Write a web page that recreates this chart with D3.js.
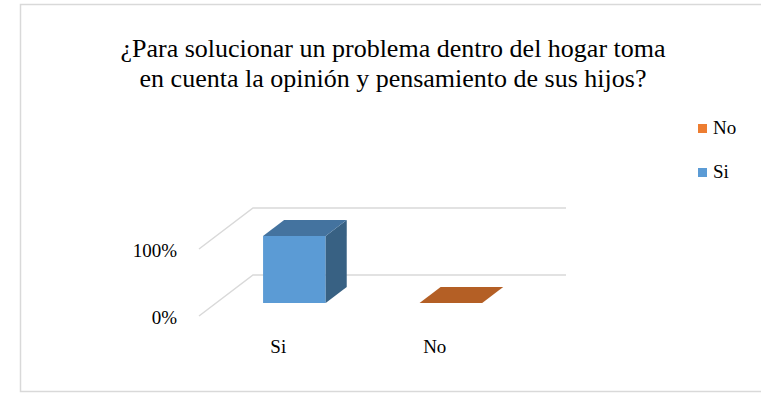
<!DOCTYPE html>
<html>
<head>
<meta charset="utf-8">
<script src="https://cdn.jsdelivr.net/npm/d3@7"></script>
<style>
  html, body { margin: 0; padding: 0; background: #fff; }
  svg { display: block; }
</style>
</head>
<body>
<svg id="chart" width="761" height="393"></svg>
<script>
// Survey answers (share of respondents)
const categories = ["Si", "No"];
const values = [1.0, 0.0];
const yTicks = [0, 1];
const yTickLabels = ["0%", "100%"];
const titleLines = [
  "¿Para solucionar un problema dentro del hogar toma",
  "en cuenta la opinión y pensamiento de sus hijos?"
];
const legendItems = ["No", "Si"];

const FONT = "Liberation Serif";
const colors = {
  Si: { front: "#5B9BD5", top: "#44739F", side: "#386183" },
  No: { front: "#ED7D31", top: "#B45F25", side: "#A0541F" }
};

const svg = d3.select("#chart");

// chart frame
svg.append("rect")
  .attr("x", 20.5).attr("y", 4.5)
  .attr("width", 746).attr("height", 387)
  .attr("fill", "#fff").attr("stroke", "#D9D9D9").attr("stroke-width", 1.5);

// title
svg.append("g").selectAll("text").data(titleLines).join("text")
  .attr("x", 393)
  .attr("y", (d, i) => 57 + i * 30)
  .attr("text-anchor", "middle")
  .attr("font-family", FONT)
  .attr("font-size", 26)
  .text(d => d);

// oblique 3D projection: depth fraction f shifts points right and up
const depthDX = 54, depthDY = -41;
const x = d3.scaleBand().domain(categories).range([199, 512])
  .paddingInner(0.6).paddingOuter(0.3);
const y = d3.scaleLinear().domain([0, 1]).range([316, 249]);
const P = (px, v, f) => [px + f * depthDX, y(v) + f * depthDY];

// walls / gridlines
const grid = svg.append("g").attr("fill", "none")
  .attr("stroke", "#D9D9D9").attr("stroke-width", 1.5);
yTicks.forEach(t => {
  const a = P(x.range()[0], t, 0), b = P(x.range()[0], t, 1), c = P(x.range()[1], t, 1);
  grid.append("polyline").attr("points", [a, b, c].map(p => p.join(",")).join(" "));
});

// y tick labels
svg.append("g").selectAll("text").data(yTicks).join("text")
  .attr("x", 177).attr("y", d => y(d) + 8)
  .attr("text-anchor", "end")
  .attr("font-family", FONT)
  .attr("font-size", 19)
  .text((d, i) => yTickLabels[i]);

// 3D bars
const f0 = 0.317, f1 = 0.707;
const bars = svg.append("g");
categories.forEach((c, i) => {
  const v = values[i];
  const x0 = x(c), x1 = x(c) + x.bandwidth();
  const col = colors[c];
  const poly = (pts, fill) => bars.append("polygon")
    .attr("points", pts.map(p => p.join(",")).join(" "))
    .attr("fill", fill);
  if (v > 0) {
    poly([P(x0, 0, f0), P(x1, 0, f0), P(x1, v, f0), P(x0, v, f0)], col.front);
    poly([P(x1, 0, f0), P(x1, 0, f1), P(x1, v, f1), P(x1, v, f0)], col.side);
  }
  poly([P(x0, v, f0), P(x1, v, f0), P(x1, v, f1), P(x0, v, f1)], col.top);
});

// category labels
svg.append("g").selectAll("text").data(categories).join("text")
  .attr("x", d => x(d) + x.bandwidth() / 2 + 1)
  .attr("y", 353)
  .attr("text-anchor", "middle")
  .attr("font-family", FONT)
  .attr("font-size", 19)
  .text(d => d);

// legend
const lg = svg.append("g").selectAll("g").data(legendItems).join("g")
  .attr("transform", (d, i) => `translate(698, ${124 + i * 44})`);
lg.append("rect").attr("width", 9).attr("height", 9)
  .attr("fill", d => colors[d].front);
lg.append("text").attr("x", 15).attr("y", 10)
  .attr("font-family", FONT)
  .attr("font-size", 19)
  .text(d => d);
</script>
</body>
</html>
